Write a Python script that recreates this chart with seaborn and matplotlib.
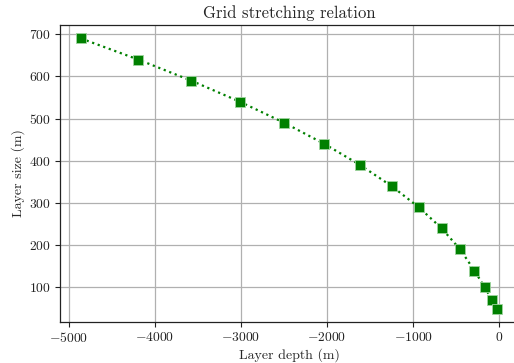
import matplotlib
matplotlib.use("Agg")
import matplotlib.pyplot as plt
import seaborn as sns
import pandas as pd

layer_depth = [-4855, -4190, -3575, -3010, -2495, -2030, -1615, -1250,
               -935, -670, -455, -290, -170, -85, -25]
layer_size = [690, 640, 590, 540, 490, 440, 390, 340, 290, 240, 190, 140, 100, 70, 50]

df = pd.DataFrame({"depth": layer_depth, "size": layer_size})

sns.set_style("ticks")
plt.rcParams["font.family"] = ["serif"]
plt.rcParams["font.serif"] = ["cmr10", "DejaVu Serif"]
plt.rcParams["mathtext.fontset"] = "cm"
plt.rcParams["axes.formatter.use_mathtext"] = True

fig = plt.figure(figsize=(5.14, 3.63), dpi=100)
ax = fig.add_axes([60.3 / 514, (363 - 322) / 363, (518 - 60.3) / 514, (322 - 25) / 363])

sns.lineplot(data=df, x="depth", y="size", ax=ax, color="green", linestyle=":",
             linewidth=1.6, marker="s", markersize=7.2, markeredgecolor="#9fd49f",
             markeredgewidth=0.6, sort=False)

ax.set_xlim(-5096, 216)
ax.set_ylim(18, 722)
ax.set_xticks([-5000, -4000, -3000, -2000, -1000, 0])
ax.set_yticks([100, 200, 300, 400, 500, 600, 700])
ax.grid(True, color="#b0b0b0", linewidth=0.9)
ax.set_axisbelow(True)
for s in ax.spines.values():
    s.set_color("#222222")
    s.set_linewidth(0.9)
ax.tick_params(direction="out", length=3.5, width=0.8, labelsize=9.8, pad=3,
               colors="#222222")
ax.set_xlabel("Layer depth (m)", fontsize=10, labelpad=2)
ax.set_ylabel("Layer size (m)", fontsize=10, labelpad=3)
ax.set_title("Grid stretching relation", fontsize=12, pad=5)

fig.savefig("out.png", dpi=100)
